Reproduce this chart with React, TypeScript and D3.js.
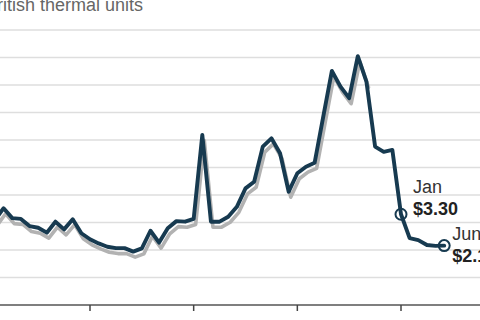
import React from "react";
import * as d3 from "d3";

// Monthly price, $ per million British thermal units.
// Month offsets are relative to the January of the final year (0 = "Jan").
const firstMonth = -47;
const prices = [
  3.09, 3.52, 3.16, 3.13, 2.87, 2.81, 2.63, 3.03, 2.75, 3.12, 2.61, 2.39,
  2.24, 2.12, 2.07, 2.07, 1.94, 2.06, 2.7, 2.27, 2.79, 3.05, 3.03, 3.13,
  6.18, 3.03, 3.03, 3.21, 3.57, 4.24, 4.48, 5.76, 6.06, 5.52, 4.12, 4.79,
  5.03, 5.17, 6.85, 8.51, 7.94, 7.52, 9.05, 8.12, 5.76, 5.57, 5.64, 3.3,
  2.43, 2.36, 2.18, 2.15, 2.16,
];
const shadowEndMonth = -4;
const yTicks = [1, 2, 3, 4, 5, 6, 7, 8, 9, 10];
const xTicks = [-36, -24, -12, 0];
const unitLabel = "Price in dollars per million British thermal units";
const callouts = [
  { month: 0, name: "Jan", value: "$3.30" },
  { month: 5, name: "June", value: "$2.15" },
];

const W = 480;
const H = 320;

export default function App() {
  const data = prices.map((v, i) => ({ m: firstMonth + i, v }));
  const x = d3.scaleLinear().domain([-36, 0]).range([90, 401]);
  const y = d3.scaleLinear().domain([0, 10]).range([305, 30]);
  const line = d3
    .line<{ m: number; v: number }>()
    .x((d) => x(d.m))
    .y((d) => y(d.v));
  const shadowData = data.filter((d) => d.m <= shadowEndMonth);
  const find = (m: number) => data.find((d) => d.m === m)!;
  const jan = find(callouts[0].month);
  const jun = find(callouts[1].month);

  return (
    <svg
      width={W}
      height={H}
      style={{ position: "absolute", left: 0, top: 0, background: "#fff" }}
      fontFamily="Arial, 'Liberation Sans', Helvetica, sans-serif"
    >
      <text x={143} y={11} textAnchor="end" fontSize={18} fill="#666">
        {unitLabel}
      </text>
      {yTicks.map((t) => (
        <line
          key={t}
          x1={0}
          x2={W}
          y1={y(t)}
          y2={y(t)}
          stroke="#dedede"
          strokeWidth={1.6}
        />
      ))}
      <line x1={0} x2={W} y1={y(0)} y2={y(0)} stroke="#555" strokeWidth={1.5} />
      {xTicks.map((t) => (
        <line
          key={t}
          x1={x(t)}
          x2={x(t)}
          y1={y(0)}
          y2={y(0) + 6}
          stroke="#444"
          strokeWidth={1.5}
        />
      ))}
      <path
        d={line(shadowData) || ""}
        transform="translate(2,5.5)"
        fill="none"
        stroke="#b2b2b2"
        strokeWidth={3.6}
        strokeLinejoin="round"
        strokeLinecap="round"
      />
      <path
        d={line(data) || ""}
        fill="none"
        stroke="#173a50"
        strokeWidth={3.9}
        strokeLinejoin="round"
        strokeLinecap="round"
      />
      {callouts.map((c) => {
        const d = find(c.month);
        return (
          <circle
            key={c.name}
            cx={x(d.m)}
            cy={y(d.v)}
            r={5.5}
            fill="none"
            stroke="#173a50"
            strokeWidth={2}
          />
        );
      })}
      <text x={x(jan.m) + 12} y={y(jan.v) - 21} fontSize={18} fill="#333">
        {callouts[0].name}
      </text>
      <text x={x(jan.m) + 12} y={y(jan.v) + 1} fontSize={18} fontWeight="bold" fill="#222">
        {callouts[0].value}
      </text>
      <text x={x(jun.m) + 8} y={y(jun.v) - 6} fontSize={18} fill="#333">
        {callouts[1].name}
      </text>
      <text x={x(jun.m) + 8} y={y(jun.v) + 16} fontSize={18} fontWeight="bold" fill="#222">
        {callouts[1].value}
      </text>
    </svg>
  );
}
